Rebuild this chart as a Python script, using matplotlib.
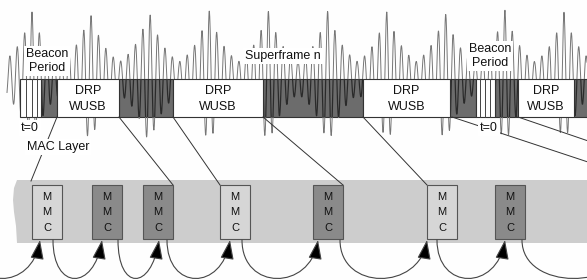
import numpy as np
import matplotlib
matplotlib.use("Agg")
import matplotlib.pyplot as plt
from matplotlib.patches import Rectangle, Polygon, FancyArrowPatch
from matplotlib.path import Path

plt.rcParams['font.family'] = ['Liberation Sans', 'DejaVu Sans']

# radio signal bursts (x of tallest peak, y of that peak)
burst_x = [32, 90, 149, 209, 268, 328, 387, 445, 505, 564]
burst_top = [12, 12, 11, 10, 10, 10, 11, 12, 10, 12]

# superframe timeline: segment edges and kinds
seg_edges = [20, 41, 57, 119, 173, 263, 363, 450, 476, 495, 518, 574, 592]
seg_kind = ['beacon', 'dark', 'drp', 'dark', 'drp', 'dark', 'drp', 'dark',
            'beacon', 'dark', 'drp', 'dark']
beacon_slots = [26, 32, 37, 480, 485, 490]

# MMC boxes in the MAC layer
mmc_x = [32, 92, 143, 220, 313, 427, 495]
mmc_shade = ['light', 'dark', 'dark', 'light', 'dark', 'light', 'dark']

# leader lines: from bar bottom x to a point in the MAC layer
link_from = [57, 119, 173, 263, 363, 452, 518]
link_to = [(31, 181), (173, 185), (220, 185), (343, 185), (427, 185),
           (600, 166), (600, 145)]

# curved arrows between MMCs
arc_from = [-30, 53, 118, 167, 242, 340, 437, 522]
arc_to = [40, 102, 159, 230, 318, 427, 505, 630]

fig = plt.figure(figsize=(5.87, 2.8), dpi=100)
fig.patch.set_facecolor('#fefefe')
ax = fig.add_axes([0, 0, 1, 1])
ax.set_xlim(0, 587)
ax.set_ylim(280, 0)
ax.axis('off')

bar_top, bar_bot = 79, 117
mid = 78

# waveform
x = np.linspace(7, 592, 4000)
period = (burst_x[-1] - burst_x[0]) / (8 * (len(burst_x) - 1))
env = np.zeros_like(x)
for bx, bt in zip(burst_x, burst_top):
    env = np.maximum(env, 4 + (mid - bt - 4) * np.exp(-np.abs(x - bx) / 18))
y = mid - env * np.cos(2 * np.pi * (x - burst_x[0]) / period)
ax.plot(x, y, color='#767676', lw=0.7, zorder=2)

# timeline bar
for i, kind in enumerate(seg_kind):
    x0, x1 = seg_edges[i], seg_edges[i + 1]
    if kind == 'dark':
        r = Rectangle((x0, bar_top), x1 - x0, bar_bot - bar_top, facecolor='#6c6c6c',
                      edgecolor='#333333', lw=0.8, zorder=1)
        ax.add_patch(r)
        ln, = ax.plot(x, y, color='#2a2a2a', lw=0.9, zorder=2.5)
        ln.set_clip_path(r)
    else:
        ax.add_patch(Rectangle((x0, bar_top), x1 - x0, bar_bot - bar_top, facecolor='white',
                               edgecolor='#333333', lw=0.8, zorder=3))
        if kind == 'drp':
            ax.text((x0 + x1) / 2, (bar_top + bar_bot) / 2 + 1, 'DRP\nWUSB', ha='center',
                    va='center', fontsize=9, linespacing=1.35, color='#111111', zorder=6)
for bx in beacon_slots:
    ax.plot([bx, bx], [bar_top, bar_bot], color='#444444', lw=0.7, zorder=3.5)

# labels with white backgrounds
box = dict(boxstyle='square,pad=0.15', facecolor='white', edgecolor='none')
ax.text(47, 61, 'Beacon\nPeriod', ha='center', va='center', fontsize=9,
        linespacing=1.3, color='#111111', bbox=box, zorder=6)
ax.text(490, 56, 'Beacon\nPeriod', ha='center', va='center', fontsize=9,
        linespacing=1.3, color='#111111', bbox=box, zorder=6)
ax.text(283, 56, 'Superframe n', ha='center', va='center', fontsize=9,
        color='#111111', bbox=box, zorder=6)
ax.text(30, 128, 't=0', ha='center', va='center', fontsize=9, color='#111111',
        bbox=box, zorder=6)
ax.text(489, 128, 't=0', ha='center', va='center', fontsize=9, color='#111111',
        bbox=box, zorder=6)
ax.text(58, 147, 'MAC Layer', ha='center', va='center', fontsize=9, color='#111111',
        bbox=box, zorder=6)

# MAC layer band with a wavy left edge
band = [(17, 180), (14, 188), (13, 200), (14, 212), (16, 226), (17, 243),
        (600, 243), (600, 180)]
ax.add_patch(Polygon(band, closed=True, facecolor='#cdcdcd', edgecolor='none', zorder=1))

# leader lines
for x0, (x1, y1) in zip(link_from, link_to):
    ax.plot([x0, x1], [bar_bot, y1], color='#333333', lw=0.7, zorder=4)

# MMC boxes
for mx, shade in zip(mmc_x, mmc_shade):
    fc = '#d6d6d6' if shade == 'light' else '#8a8a8a'
    ax.add_patch(Rectangle((mx, 185), 30, 54, facecolor=fc, edgecolor='#555555',
                           lw=0.8, zorder=5))
    for ly, ch in zip([197, 212, 228], 'MMC'):
        ax.text(mx + 15, ly, ch, ha='center', va='center', fontsize=8,
                color='#111111', zorder=6)

# curved arrows
for xs, xt in zip(arc_from, arc_to):
    verts = [(xs, 240), (xs, 291), (xt - 8, 291), (xt, 240)]
    p = Path(verts, [Path.MOVETO, Path.CURVE4, Path.CURVE4, Path.CURVE4])
    ax.add_patch(FancyArrowPatch(path=p, arrowstyle='-|>,head_length=1.0,head_width=0.35',
                                 mutation_scale=12, edgecolor='#444444', facecolor='black',
                                 lw=0.8, zorder=5))

fig.savefig('out.png', dpi=100, facecolor=fig.get_facecolor())
